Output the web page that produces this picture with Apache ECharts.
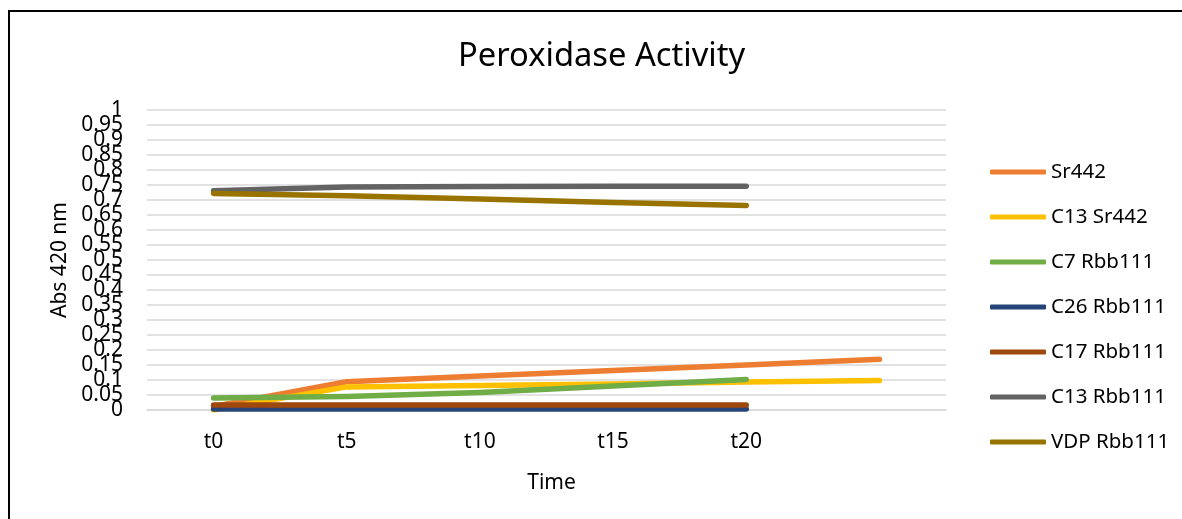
<!DOCTYPE html>
<html>
<head>
<meta charset="utf-8">
<script src="https://cdn.jsdelivr.net/npm/echarts@6/dist/echarts.min.js"></script>
<style>
  html, body { margin: 0; padding: 0; background: #fff; }
  #chart { width: 1182px; height: 519px; }
</style>
</head>
<body>
<div id="chart"></div>
<script>
// x categories (last slot has no label)
const times = ['t0', 't5', 't10', 't15', 't20', ''];

// Abs 420 nm readings
const sr442 = [0.012, 0.094, 0.113, 0.132, 0.150, 0.169];
const c13Sr442 = [0.0, 0.077, 0.082, 0.087, 0.093, 0.098];
const c7Rbb111 = [0.040, 0.045, 0.058, 0.080, 0.102];
const c26Rbb111 = [0.003, 0.003, 0.003, 0.003, 0.003];
const c17Rbb111 = [0.017, 0.017, 0.017, 0.017, 0.017];
const c13Rbb111 = [0.731, 0.743, 0.745, 0.746, 0.746];
const vdpRbb111 = [0.722, 0.714, 0.703, 0.692, 0.682];

const seriesNames = ['Sr442', 'C13 Sr442', 'C7 Rbb111', 'C26 Rbb111', 'C17 Rbb111', 'C13 Rbb111', 'VDP Rbb111'];
const seriesData = [sr442, c13Sr442, c7Rbb111, c26Rbb111, c17Rbb111, c13Rbb111, vdpRbb111];
const colors = ['#ED7D31', '#FFC000', '#70AD47', '#264478', '#9E480E', '#636363', '#997300'];

const font = 'Noto Sans';
const yMin = 0, yMax = 1, yStep = 0.05;

const fmt = v => String(Math.round(v * 100) / 100);
const isEnd = v => Math.abs(v - yMin) < 1e-9 || Math.abs(v - yMax) < 1e-9;

const chart = echarts.init(document.getElementById('chart'));

const labelBase = { fontFamily: font, fontSize: 21, color: '#000', margin: 24 };

const option = {
  animation: false,
  color: colors,
  graphic: [{
    type: 'rect',
    shape: { x: 9, y: 11, width: 1400, height: 700 },
    style: { fill: 'none', stroke: '#000', lineWidth: 2 },
    silent: true
  }],
  title: {
    text: 'Peroxidase Activity',
    left: 453,
    top: 35,
    textStyle: { fontFamily: font, fontSize: 32.7, fontWeight: 'normal', color: '#000' }
  },
  legend: {
    orient: 'vertical',
    left: 985,
    top: 156,
    itemWidth: 56,
    itemHeight: 5,
    itemGap: 23,
    icon: 'roundRect',
    textStyle: { fontFamily: font, fontSize: 20.5, lineHeight: 22, color: '#000' },
    data: seriesNames
  },
  grid: { left: 147, right: 236, top: 110, bottom: 109 },
  xAxis: {
    type: 'category',
    data: times,
    boundaryGap: true,
    name: 'Time',
    nameLocation: 'middle',
    nameGap: 63,
    nameTextStyle: { fontFamily: font, fontSize: 21, color: '#000', padding: [0, 0, 0, 10] },
    axisLine: { lineStyle: { color: '#D9D9D9', width: 1.5 } },
    axisTick: { show: false },
    axisLabel: { fontFamily: font, fontSize: 21, color: '#000', margin: 22 }
  },
  yAxis: [
    {
      // inner ticks (0.05 .. 0.95) plus grid lines
      type: 'value',
      min: yMin,
      max: yMax,
      interval: yStep,
      name: 'Abs 420 nm',
      nameLocation: 'middle',
      nameGap: 72,
      nameRotate: 90,
      nameTextStyle: { fontFamily: font, fontSize: 21, color: '#000' },
      axisLine: { show: false },
      axisTick: { show: false },
      splitLine: { lineStyle: { color: '#D9D9D9', width: 1.5 } },
      axisLabel: Object.assign({}, labelBase, {
        showMinLabel: true, showMaxLabel: true,
        formatter: v => isEnd(v) ? '' : fmt(v)
      })
    },
    {
      // the 0 and 1 ends
      type: 'value',
      position: 'left',
      min: yMin,
      max: yMax,
      interval: yStep,
      axisLine: { show: false },
      axisTick: { show: false },
      splitLine: { show: false },
      axisLabel: Object.assign({}, labelBase, {
        showMinLabel: true, showMaxLabel: true,
        formatter: v => isEnd(v) ? fmt(v) : ''
      })
    }
  ],
  series: seriesNames.map((name, i) => ({
    name: name,
    type: 'line',
    data: seriesData[i],
    symbol: 'none',
    lineStyle: { width: 5.5, cap: 'round', join: 'round' }
  }))
};

chart.setOption(option);
</script>
</body>
</html>
